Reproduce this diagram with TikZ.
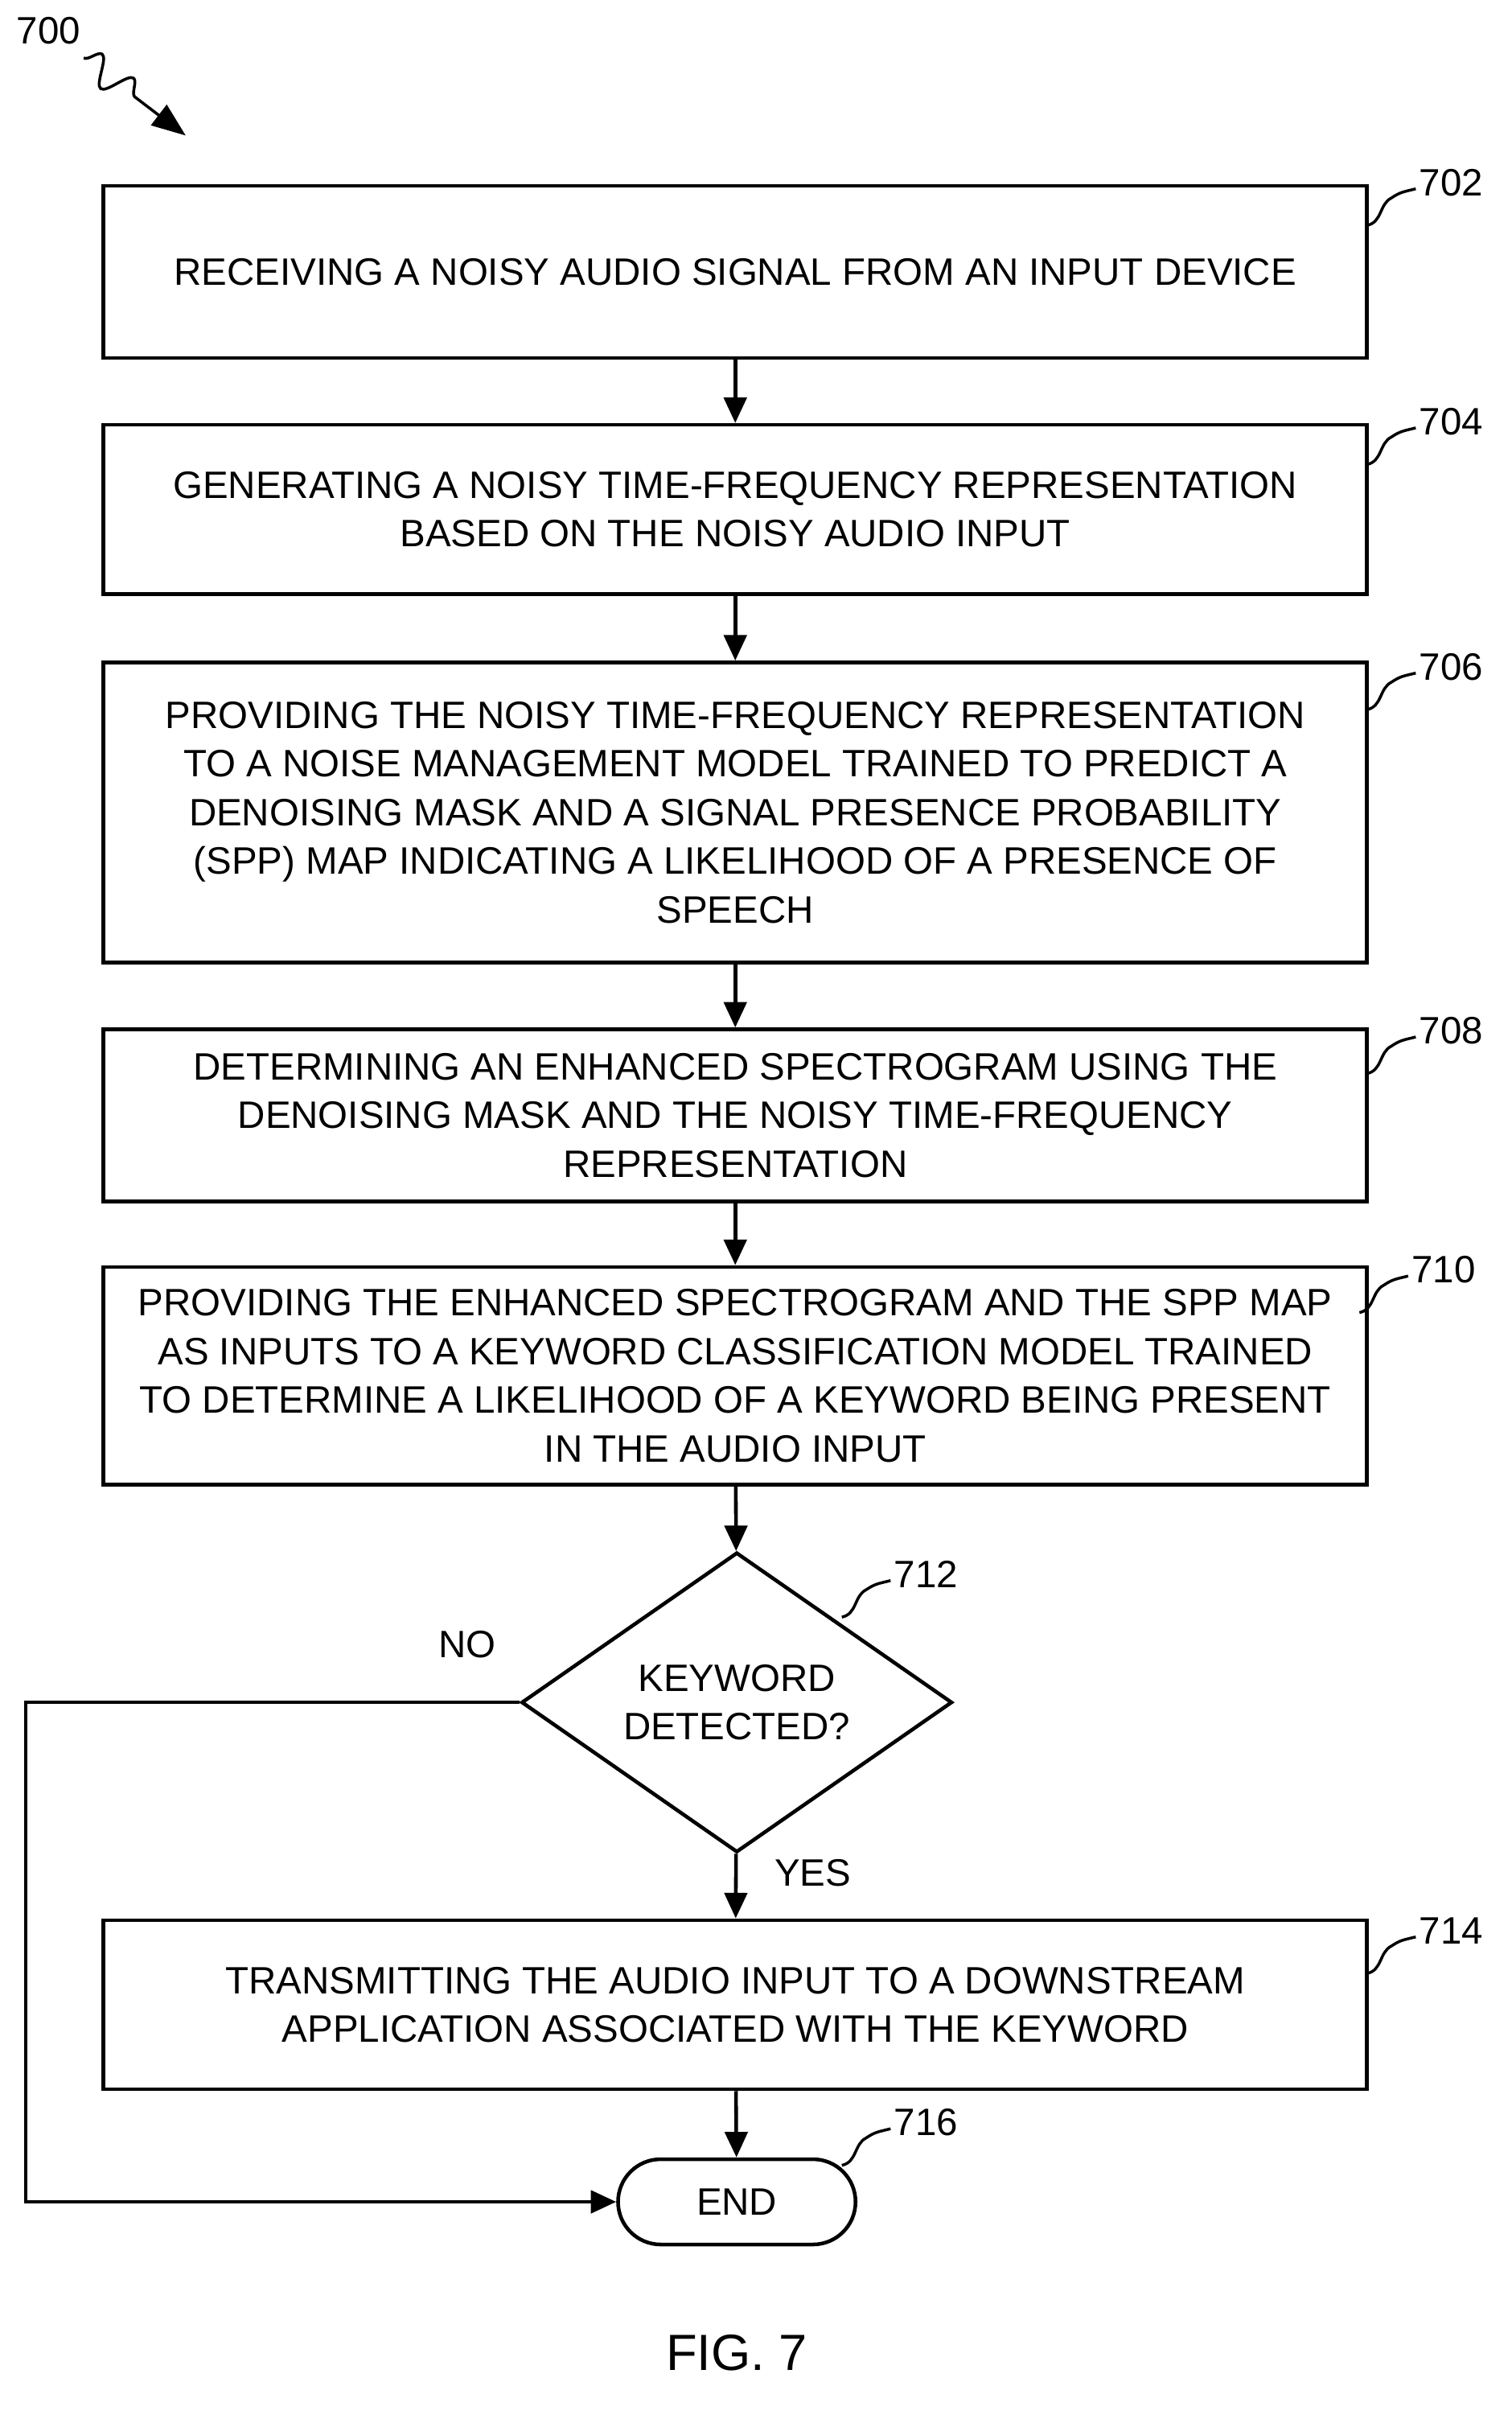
\documentclass[tikz,border=0pt]{standalone}
\usepackage{fontspec}
\setmainfont{Liberation Sans}
\usetikzlibrary{shapes.geometric,shapes.misc,arrows.meta,decorations.pathmorphing}
\begin{document}
\begin{tikzpicture}[x=0.01892cm,y=-0.01892cm,
  every node/.style={font=\fontsize{13.5}{17.2}\selectfont},
  box/.style={draw,line width=1.3pt,inner sep=0,align=center},
  ln/.style={line width=1.3pt},
  arr/.style={ln,-{Triangle[length=9pt,width=8pt]}},
  lab/.style={anchor=west,inner sep=0}]
\useasboundingbox (0,0) rectangle (993,1586);
\newcommand{\bx}[4]{\node[box,minimum width=830*0.01892cm,minimum height={(#3-#2)*0.01892cm}] (#1) at (483,{(#2+#3)/2}) {#4};}
\bx{b702}{122}{235}{RECEIVING A NOISY AUDIO SIGNAL FROM AN INPUT DEVICE}
\bx{b704}{279}{390}{GENERATING A NOISY TIME-FREQUENCY REPRESENTATION\\BASED ON THE NOISY AUDIO INPUT}
\bx{b706}{435}{632}{PROVIDING THE NOISY TIME-FREQUENCY REPRESENTATION\\TO A NOISE MANAGEMENT MODEL TRAINED TO PREDICT A\\DENOISING MASK AND A SIGNAL PRESENCE PROBABILITY\\(SPP) MAP INDICATING A LIKELIHOOD OF A PRESENCE OF\\SPEECH}
\bx{b708}{676}{789}{DETERMINING AN ENHANCED SPECTROGRAM USING THE\\DENOISING MASK AND THE NOISY TIME-FREQUENCY\\REPRESENTATION}
\bx{b710}{832}{975}{PROVIDING THE ENHANCED SPECTROGRAM AND THE SPP MAP\\AS INPUTS TO A KEYWORD CLASSIFICATION MODEL TRAINED\\TO DETERMINE A LIKELIHOOD OF A KEYWORD BEING PRESENT\\IN THE AUDIO INPUT}
\bx{b714}{1261}{1372}{TRANSMITTING THE AUDIO INPUT TO A DOWNSTREAM\\APPLICATION ASSOCIATED WITH THE KEYWORD}
\node[draw,ln,diamond,aspect=1.43,minimum width=283*0.01892cm,minimum height=197*0.01892cm,inner sep=0,align=center] (d712) at (484,1118) {KEYWORD\\DETECTED?};
\node[draw,ln,rounded rectangle,minimum width=156*0.01892cm,minimum height=56*0.01892cm,inner sep=0] (end) at (484,1446) {END};
\draw[arr] (b702) -- (b704);
\draw[arr] (b704) -- (b706);
\draw[arr] (b706) -- (b708);
\draw[arr] (b708) -- (b710);
\draw[arr] (b710) -- (d712);
\draw[arr] (d712) -- (b714);
\draw[arr] (b714) -- (end);
\coordinate (c1) at (17,1118);
\coordinate (c2) at (17,1446);
\draw[arr] (d712.west) -- (c1) -- (c2) -- (end.west);
\node at (307,1080) {NO};
\node at (534,1230) {YES};
% leaders
\newcommand{\lead}[3]{\draw[line width=1pt] (#1,#2) .. controls (#1+10,#2-2) and (#1+8,#2-14) .. (#1+16,#2-18) .. controls (#1+22,#2-22) and (#1+24,#2-22) .. (#1+32,#2-24); \node[lab] at (#1+34,#2-28) {#3};}
\lead{898}{148}{702}
\lead{898}{305}{704}
\lead{898}{466}{706}
\lead{898}{705}{708}
\lead{893}{862}{710}
\lead{553}{1062}{712}
\lead{898}{1296}{714}
\lead{553}{1422}{716}
\node at (32,20) {700};
\draw[line width=1pt,decorate,decoration={snake,amplitude=5pt,segment length=14pt,post length=12pt}] (55,38) -- (110,80);
\draw[line width=1pt,-{Triangle[length=12pt,width=9pt]}] (105,76) -- (122,89);
\node[font=\fontsize{18}{20}\selectfont] at (484,1545) {FIG. 7};
\end{tikzpicture}
\end{document}
